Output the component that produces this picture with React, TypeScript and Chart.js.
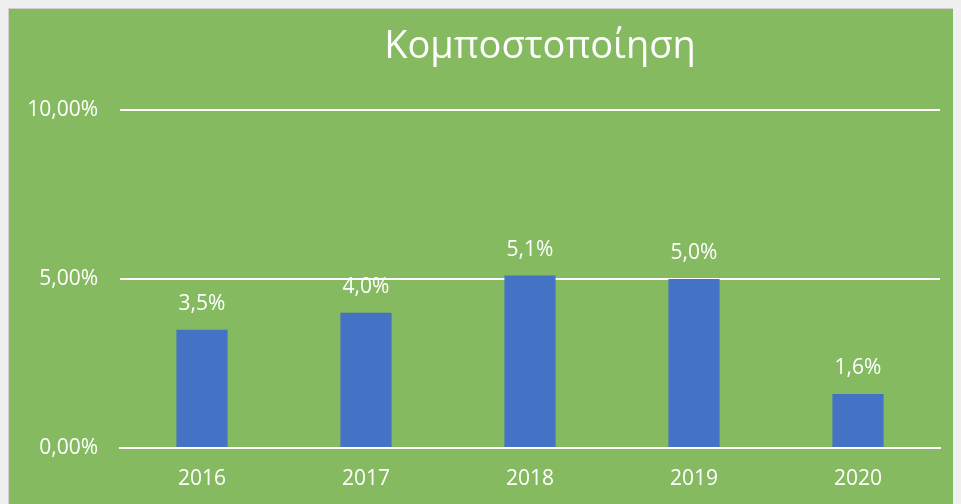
import React, { useEffect, useRef } from "react";
import { Chart, registerables } from "chart.js";

Chart.register(...registerables);

const categories = ["2016", "2017", "2018", "2019", "2020"];
const values = [3.5, 4.0, 5.1, 5.0, 1.6];
const valueLabels = ["3,5%", "4,0%", "5,1%", "5,0%", "1,6%"];
const yTickValues = [0, 5, 10];
const yTickLabels = ["0,00%", "5,00%", "10,00%"];
const chartTitle = "Κομποστοποίηση";

const GREEN = "#86BA61";
const BLUE = "#4472C4";
const WHITE = "#FFFFFF";
const FONT = "'Open Sans', 'Noto Sans', sans-serif";

const dataLabelPlugin = {
  id: "dataLabelPlugin",
  afterDatasetsDraw(chart: any) {
    const ctx = chart.ctx;
    const meta = chart.getDatasetMeta(0);
    ctx.save();
    ctx.fillStyle = WHITE;
    ctx.font = `21px ${FONT}`;
    ctx.textAlign = "center";
    ctx.textBaseline = "middle";
    meta.data.forEach((bar: any, i: number) => {
      ctx.fillText(valueLabels[i], bar.x, bar.y - 26);
    });
    ctx.restore();
  },
};

const titlePlugin = {
  id: "centeredTitle",
  afterDraw(chart: any) {
    const ctx = chart.ctx;
    ctx.save();
    ctx.fillStyle = WHITE;
    ctx.font = `38px ${FONT}`;
    ctx.textAlign = "center";
    ctx.textBaseline = "alphabetic";
    ctx.fillText(chartTitle, chart.width / 2, 49);
    ctx.restore();
  },
};

export default function App() {
  const canvasRef = useRef<HTMLCanvasElement | null>(null);

  useEffect(() => {
    document.documentElement.style.overflow = "hidden";
    document.body.style.background = "#F0F0F0";
    const canvas = canvasRef.current;
    if (!canvas) return;
    const chart = new Chart(canvas, {
      type: "bar",
      data: {
        labels: categories,
        datasets: [
          {
            data: values,
            backgroundColor: BLUE,
            borderWidth: 0,
            barPercentage: 1,
            categoryPercentage: 0.312,
          },
        ],
      },
      options: {
        responsive: false,
        animation: false,
        devicePixelRatio: 1,
        layout: { padding: { left: 0, right: 131, top: 101, bottom: 0 } },
        plugins: {
          legend: { display: false },
          tooltip: { enabled: false },
          title: { display: false },
        },
        scales: {
          x: {
            grid: { display: false, drawTicks: false },
            border: { display: true, color: WHITE, width: 2 },
            ticks: {
              color: WHITE,
              font: { family: FONT, size: 21 },
              padding: 18,
            },
            afterFit(scale: any) {
              scale.height = 56;
            },
          },
          y: {
            min: 0,
            max: 10,
            grid: { color: WHITE, lineWidth: 2, drawTicks: false },
            border: { display: false },
            afterBuildTicks(scale: any) {
              scale.ticks = yTickValues.map((v) => ({ value: v }));
            },
            ticks: {
              color: WHITE,
              font: { family: FONT, size: 21 },
              padding: 22,
              callback: (v: any) => {
                const idx = yTickValues.indexOf(Number(v));
                return idx >= 0 ? yTickLabels[idx] : "";
              },
            },
            afterFit(scale: any) {
              scale.width = 111;
            },
          },
        },
      },
      plugins: [dataLabelPlugin, titlePlugin],
    });
    return () => chart.destroy();
  }, []);

  return (
    <div
      style={{
        width: 952,
        height: 495,
        background: GREEN,
        borderLeft: "1px solid #D0D0D0",
        borderTop: "1px solid #D0D0D0",
        overflow: "hidden",
        position: "relative",
      }}
    >
      <canvas ref={canvasRef} width={1062} height={495} style={{ display: "block" }} />
    </div>
  );
}
